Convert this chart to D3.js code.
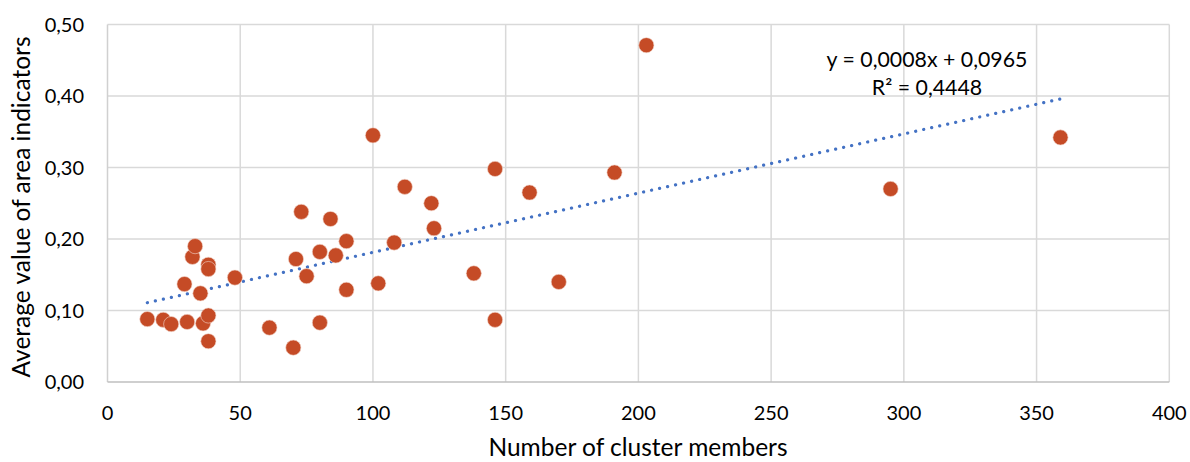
<!DOCTYPE html>
<html><head><meta charset="utf-8">
<script src="https://cdn.jsdelivr.net/npm/d3@7"></script>
<style>html,body{margin:0;padding:0;background:#fff;}svg{display:block;font-family:Lato,"Open Sans",sans-serif;}</style>
</head><body>
<svg id="c" width="1190" height="462"></svg>
<script>
const clusterMembers = [15,21,24,29,30,32,33,35,36,38,38,38,38,48,61,70,71,73,75,80,80,84,86,90,90,100,102,108,112,122,123,138,146,146,159,170,191,203,295,359];
const areaValues = [0.088,0.087,0.081,0.137,0.084,0.175,0.190,0.124,0.082,0.164,0.158,0.093,0.057,0.146,0.076,0.048,0.172,0.238,0.148,0.182,0.083,0.228,0.177,0.197,0.129,0.345,0.138,0.195,0.273,0.250,0.215,0.152,0.298,0.087,0.265,0.140,0.293,0.471,0.270,0.342];
const xTicks = [0,50,100,150,200,250,300,350,400];
const yTicks = [0,0.1,0.2,0.3,0.4,0.5];
const equationLabel = "y = 0,0008x + 0,0965";
const r2Label = "R² = 0,4448";
const xTitle = "Number of cluster members";
const yTitle = "Average value of area indicators";

const svg = d3.select("#c");
const L = 107.5, R = 1169.3, T = 24.5, B = 382;
const x = d3.scaleLinear().domain([0,400]).range([L,R]);
const y = d3.scaleLinear().domain([0,0.5]).range([B,T]);
const fmtY = v => d3.format(".2f")(v).replace(".", ",");

// gridlines
const g = svg.append("g");
g.selectAll("line.vx").data(xTicks.slice(1)).join("line")
  .attr("x1", d=>x(d)).attr("x2", d=>x(d)).attr("y1", T).attr("y2", B)
  .attr("stroke", "#D9D9D9").attr("stroke-width", 1.5);
g.selectAll("line.hy").data(yTicks.slice(1)).join("line")
  .attr("x1", L).attr("x2", R).attr("y1", d=>y(d)).attr("y2", d=>y(d))
  .attr("stroke", "#D9D9D9").attr("stroke-width", 1.5);
// axes lines
g.append("line").attr("x1", L).attr("x2", L).attr("y1", T).attr("y2", B).attr("stroke", "#D0D0D0").attr("stroke-width", 1.5);
g.append("line").attr("x1", L).attr("x2", R).attr("y1", B).attr("y2", B).attr("stroke", "#BFBFBF").attr("stroke-width", 1.5);

// tick labels
svg.append("g").selectAll("text").data(xTicks).join("text")
  .attr("x", d=>x(d)).attr("y", 420).attr("text-anchor","middle")
  .attr("font-size", 20).attr("fill","#000").text(d=>d);
svg.append("g").selectAll("text").data(yTicks).join("text")
  .attr("x", 84).attr("y", d=>y(d)+7).attr("text-anchor","end")
  .attr("font-size", 20).attr("fill","#000").text(fmtY);

// titles
svg.append("text").attr("x", 638).attr("y", 456).attr("text-anchor","middle")
  .attr("font-size", 24.5).attr("fill","#000").text(xTitle);
svg.append("text").attr("transform", "translate(30,207) rotate(-90)").attr("text-anchor","middle")
  .attr("font-size", 24.5).attr("fill","#000").text(yTitle);

// linear regression from data
const n = clusterMembers.length;
const mx = d3.mean(clusterMembers), my = d3.mean(areaValues);
let sxy = 0, sxx = 0;
for (let i=0;i<n;i++){ sxy += (clusterMembers[i]-mx)*(areaValues[i]-my); sxx += (clusterMembers[i]-mx)**2; }
const slope = sxy/sxx, icpt = my - slope*mx;
const x0 = d3.min(clusterMembers), x1 = d3.max(clusterMembers);
svg.append("line")
  .attr("x1", x(x0)).attr("y1", y(icpt+slope*x0))
  .attr("x2", x(x1)).attr("y2", y(icpt+slope*x1))
  .attr("stroke", "#4472C4").attr("stroke-width", 3.2)
  .attr("stroke-linecap","round").attr("stroke-dasharray","0.1 8.1");

// points
svg.append("g").selectAll("circle").data(clusterMembers.map((d,i)=>[d,areaValues[i]])).join("circle")
  .attr("cx", d=>x(d[0])).attr("cy", d=>y(d[1])).attr("r", 7.6)
  .attr("fill", "#C54B26").attr("stroke","#F3D9CF").attr("stroke-width",0.6);

// equation labels
svg.append("text").attr("x", 927).attr("y", 67).attr("text-anchor","middle")
  .attr("font-size", 21.3).attr("fill","#000").text(equationLabel);
svg.append("text").attr("x", 927).attr("y", 95).attr("text-anchor","middle")
  .attr("font-size", 21.3).attr("fill","#000").text(r2Label);
</script>
</body></html>
